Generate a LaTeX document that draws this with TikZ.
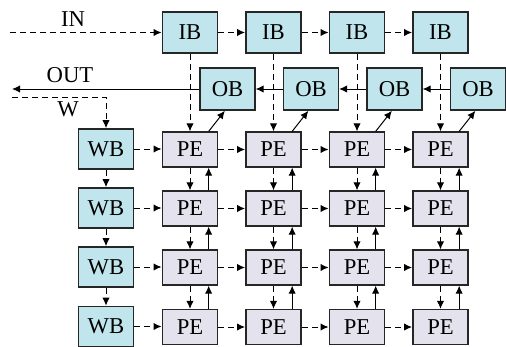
\documentclass[tikz,border=0pt]{standalone}
\usepackage{fontspec}
\setmainfont{Liberation Serif}
\usepackage{xcolor}
\usetikzlibrary{arrows.meta}
\definecolor{bufblue}{RGB}{193,229,236}
\definecolor{pelilac}{RGB}{227,226,237}

\begin{document}
\begin{tikzpicture}[x=0.75pt,y=-0.75pt]
  \useasboundingbox (0,0) rectangle (506,346);
  \tikzstyle{buf}=[draw=black!85,line width=1.2pt,fill=bufblue,minimum width=41.5pt,minimum height=31pt,inner sep=0pt,font=\fontsize{17}{18}\selectfont]
  \tikzstyle{pe}=[buf,fill=pelilac,minimum height=26pt]
  \tikzstyle{dsh}=[-{Latex[length=6pt,width=5.5pt]},dash pattern=on 4.5pt off 3pt,line width=0.75pt]
  \tikzstyle{sld}=[-{Latex[length=6pt,width=5.5pt]},line width=0.75pt]
  \tikzstyle{lbl}=[font=\fontsize{17}{18}\selectfont]

  % buffers and the PE array
  \foreach \c/\x in {1/190,2/273.5,3/357,4/440.5} {
    \node[buf] (ib\c) at (\x,32.5) {IB};
    \node[buf,minimum width=41pt,minimum height=31.5pt] (ob\c) at (\x+37.5,89) {OB};
    \foreach \r/\y in {1/149.5,2/208.5,3/267.5,4/327}
      \node[pe] (pe\r\c) at (\x,\y) {PE};
  }
  \foreach \r/\y in {1/149,2/208,3/267,4/326.5}
    \node[buf,minimum height=30pt] (wb\r) at (106,\y) {WB};

  % input, output and weight ports
  \coordinate (inl) at (10,32.5);
  \coordinate (outl) at (12,89);
  \coordinate (wl) at (12,97);
  \node[lbl] (inlbl) at (73,19) {IN};
  \node[lbl] (outlbl) at (70,75) {OUT};
  \node[lbl] (wlbl) at (68,109) {W};
  \draw[dsh] (inl) -- (ib1.west);
  \draw[sld] (ob1.west) -- (outl);
  \draw[dsh] (wl) -| (wb1.north);

  % chains along the buffers
  \foreach \a/\b in {1/2,2/3,3/4} {
    \draw[dsh] (ib\a.east) -- (ib\b.west);
    \draw[sld] (ob\b.west) -- (ob\a.east);
    \draw[dsh] (wb\a.south) -- (wb\b.north);
  }

  % rows: weights pass to the right
  \foreach \r in {1,...,4} {
    \draw[dsh] (wb\r.east) -- (wb\r.east -| pe\r1.west);
    \foreach \a/\b in {1/2,2/3,3/4}
      \draw[dsh] (pe\r\a.east) -- (pe\r\b.west);
  }

  % columns: inputs go down, partial sums go up
  \foreach \c in {1,...,4} {
    \draw[dsh] (ib\c.south) -- (pe1\c.north);
    \draw[sld] ([xshift=14pt]pe1\c.north) -- ([xshift=-2pt]ob\c.south);
    \foreach \r/\s in {1/2,2/3,3/4} {
      \draw[dsh] (pe\r\c.south) -- (pe\s\c.north);
      \draw[sld] ([xshift=14pt]pe\s\c.north) -- ([xshift=14pt]pe\r\c.south);
    }
  }
\end{tikzpicture}
\end{document}
